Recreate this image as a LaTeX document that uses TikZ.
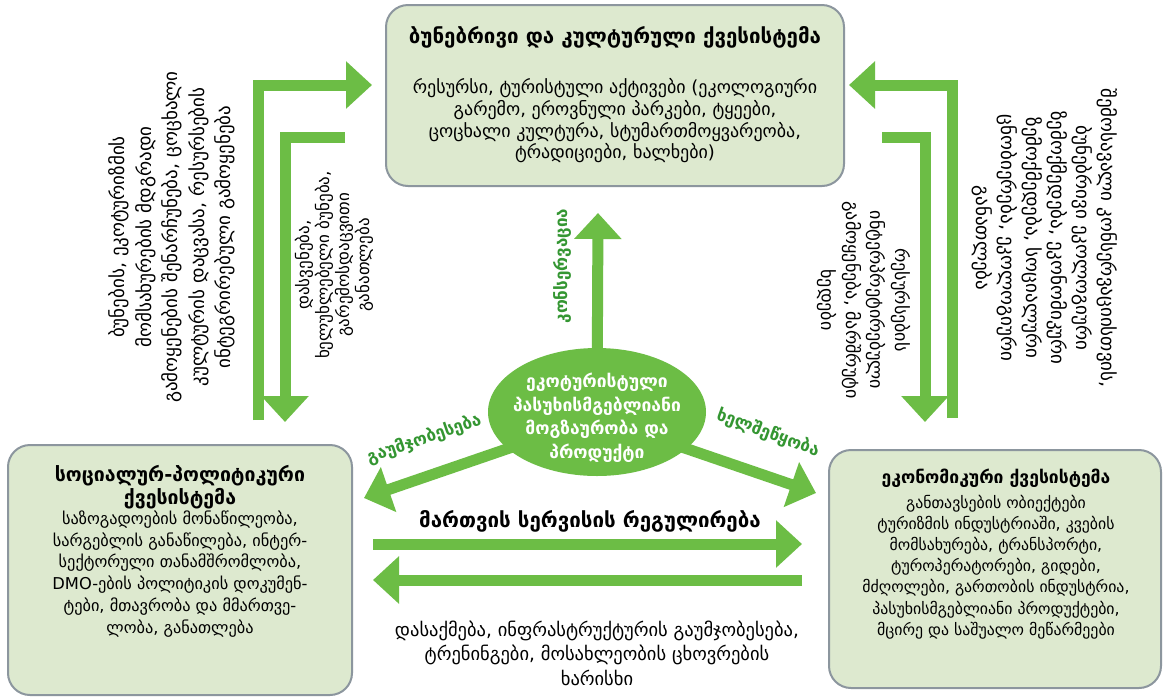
\documentclass[tikz,border=0pt]{standalone}
\usepackage{fontspec}
\setmainfont{DejaVu Sans}
\usetikzlibrary{arrows.meta,shapes.geometric}

\definecolor{arrowgreen}{RGB}{108,189,69}
\definecolor{labelgreen}{RGB}{52,150,50}
\definecolor{boxfill}{RGB}{221,233,207}
\definecolor{boxline}{RGB}{140,150,158}

\tikzset{
  subsys/.style={draw=boxline, line width=2pt, fill=boxfill, rounded corners=22pt},
  fat/.style={draw=arrowgreen, line width=11pt, line join=miter,
    -{Triangle[width=46pt,length=26pt]}},
  boxtitle/.style={font=\bfseries, align=center, inner sep=0pt},
  boxbody/.style={align=center, inner sep=0pt},
  sidetext/.style={align=center, inner sep=0pt},
  flowlabel/.style={font=\fontsize{17}{20}\selectfont\bfseries, text=labelgreen, inner sep=0pt},
  core/.style={ellipse, fill=arrowgreen, minimum width=218pt, minimum height=128pt, inner sep=0pt},
  coretext/.style={font=\fontsize{17.5}{23.5}\selectfont\bfseries, text=white, align=center, inner sep=0pt}
}

\begin{document}
\begin{tikzpicture}[x=1pt,y=-1pt]
\useasboundingbox[fill=white] (0,0) rectangle (1163,697);

% ---- the three subsystems ----
\node[subsys, minimum width=458pt, minimum height=181pt] (nat) at (615,95.5) {};
\node[boxtitle, font=\fontsize{20.5}{24}\selectfont\bfseries] (natT) at (615,37) {ბუნებრივი და კულტურული ქვესისტემა};
\node[boxbody, font=\fontsize{18}{21.7}\selectfont] (natB) at (615,121) {რესურსი, ტურისტული აქტივები (ეკოლოგიური\\
  გარემო, ეროვნული პარკები, ტყეები,\\
  ცოცხალი კულტურა, სტუმართმოყვარეობა,\\
  ტრადიციები, ხალხები)};

\node[subsys, minimum width=344pt, minimum height=250pt] (soc) at (180,570) {};
\node[boxtitle, font=\fontsize{19.5}{22.5}\selectfont\bfseries] (socT) at (180,487) {სოციალურ-პოლიტიკური\\ქვესისტემა};
\node[boxbody, font=\fontsize{16.3}{21.9}\selectfont] (socB) at (180,574) {საზოგადოების მონაწილეობა,\\
  სარგებლის განაწილება, ინტერ-\\
  სექტორული თანამშრომლობა,\\
  DMO-ების პოლიტიკის დოკუმენ-\\
  ტები, მთავრობა და მმართვე-\\
  ლობა, განათლება};

\node[subsys, minimum width=332pt, minimum height=238pt] (eco) at (995,569) {};
\node[boxtitle, font=\fontsize{17.5}{21}\selectfont\bfseries] (ecoT) at (996,478) {ეკონომიკური ქვესისტემა};
\node[boxbody, font=\fontsize{15.8}{21.2}\selectfont] (ecoB) at (996,567) {განთავსების ობიექტები\\
  ტურიზმის ინდუსტრიაში, კვების\\
  მომსახურება, ტრანსპორტი,\\
  ტუროპერატორები, გიდები,\\
  მძღოლები, გართობის ინდუსტრია,\\
  პასუხისმგებლიანი პროდუქტები,\\
  მცირე და საშუალო მეწარმეები};

% ---- arrow end points ----
\coordinate (corec) at (597,418);
\coordinate (uptip) at (598,213);
\coordinate (dltip) at (364,498);
\coordinate (drtip) at (816,493);

\coordinate (lo1) at (258,420);
\coordinate (lo2) at (258,85);
\coordinate (lo3) at (372,85);
\coordinate (li1) at (345,137);
\coordinate (li2) at (285,137);
\coordinate (li3) at (285,422);

\coordinate (ro1) at (952,418);
\coordinate (ro2) at (952,85);
\coordinate (ro3) at (849,85);
\coordinate (ri1) at (882,137);
\coordinate (ri2) at (925,137);
\coordinate (ri3) at (925,422);

\coordinate (hr1) at (373,544);
\coordinate (hr2) at (802,544);
\coordinate (hl1) at (802,580);
\coordinate (hl2) at (373,580);

% ---- flows ----
\draw[fat] (corec) -- (uptip);
\draw[fat] (corec) -- (dltip);
\draw[fat] (corec) -- (drtip);

\draw[fat] (lo1) -- (lo2) -- (lo3);
\draw[fat] (li1) -- (li2) -- (li3);
\draw[fat] (ro1) -- (ro2) -- (ro3);
\draw[fat] (ri1) -- (ri2) -- (ri3);

\draw[fat] (hr1) -- (hr2);
\draw[fat] (hl1) -- (hl2);

% ---- central product ----
\node[core] (core) at (597,412) {};
\node[coretext] (coreT) at (597,418) {ეკოტურისტული\\პასუხისმგებლიანი\\მოგზაურობა და\\პროდუქტი};

% ---- flow labels ----
\node[flowlabel, rotate=90] (lblUp) at (562,266) {კონსერვაცია};
\node[flowlabel, rotate=19] (lblL) at (424,439) {გაუმჯობესება};
\node[flowlabel, rotate=-20] (lblR) at (768,433) {ხელშეწყობა};

\node[font=\fontsize{20.5}{24}\selectfont\bfseries, inner sep=0pt] (govT) at (590,521) {მართვის სერვისის რეგულირება};
\node[font=\fontsize{18.5}{24.5}\selectfont, align=center, inner sep=0pt] (govB) at (597,653)
  {დასაქმება, ინფრასტრუქტურის გაუმჯობესება,\\
   ტრენინგები, მოსახლეობის ცხოვრების\\
   ხარისხი};

% ---- side descriptions ----
\node[sidetext, rotate=90, font=\fontsize{19}{26.5}\selectfont] (leftOut) at (172,237)
  {ბუნების, ეკოტურიზმის\\
   მომსახურების მდგრადი\\
   გამოყენების შენარჩუნება, ცოცხალი\\
   კულტურის დაცვასა, რესურსების\\
   ინტეგრირებული გამოყენება};
\node[sidetext, rotate=90, font=\fontsize{17}{20}\selectfont] (leftIn) at (334,265)
  {დასვენება,\\
   ხელუხლებელი ბუნება,\\
   გარემოსდაცვითი\\
   განათლება};
\node[sidetext, rotate=-90, font=\fontsize{18}{24.5}\selectfont] (rightIn) at (864,300)
  {რესურსების\\
   ინტერპრეტირებული\\
   გამოყენება, მარშრუტი\\
   ხედები};
\node[sidetext, rotate=-90, font=\fontsize{19}{25}\selectfont] (rightOut) at (1045,238)
  {შემოსავალი კონსერვაციისთვის,\\
   ბუნებრივი ეკოლოგიური\\
   ზემოქმედება, ეკონომიკური\\
   ზემოქმედება, სოციალური\\
   ცნობიერება, ეკოლოგიური\\
   განათლება};
\end{tikzpicture}
\end{document}
